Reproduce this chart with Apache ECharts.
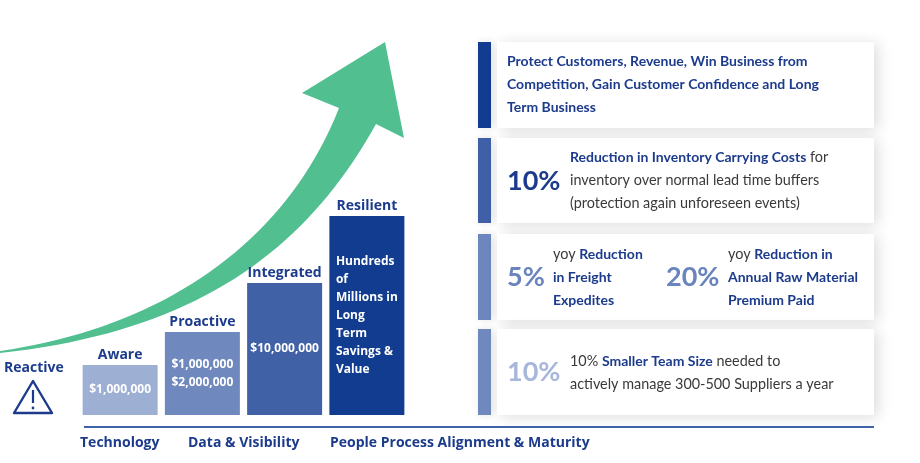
<!DOCTYPE html>
<html>
<head>
<meta charset="utf-8">
<script src="https://cdn.jsdelivr.net/npm/echarts@6/dist/echarts.min.js"></script>
<style>
  html, body { margin: 0; padding: 0; background: #fff; }
  #chart { width: 920px; height: 463px; }
</style>
</head>
<body>
<div id="chart"></div>
<script>
// maturity stages (bar height in px-ish units)
var stages = ['Aware', 'Proactive', 'Integrated', 'Resilient'];
var levels = [50, 83, 132, 199];
var stageValues = [
  '$1,000,000',
  '$1,000,000\n$2,000,000',
  '$10,000,000',
  'Hundreds\nof\nMillions in\nLong\nTerm\nSavings &\nValue'
];
var pillars = ['Technology', 'Data & Visibility', 'People Process Alignment & Maturity'];

// right hand benefit cards
var benefitHeadline = ['Protect Customers, Revenue, Win Business from', 'Competition, Gain Customer Confidence and Long', 'Term Business'];
var benefitPct = ['10%', '5%', '20%', '10%'];

var barColors = ['#9dafd3', '#6f89be', '#4061a6', '#123c8f'];
var navy = '#1c3b8c';
var leftFont = '"Open Sans", sans-serif';
var rightFont = 'Lato, sans-serif';

var chart = echarts.init(document.getElementById('chart'));

function card(y, h, accent) {
  return [{
    type: 'rect', shape: { x: 478, y: y, width: 13, height: h },
    style: { fill: accent, shadowBlur: 8, shadowColor: 'rgba(0,0,0,0.12)', shadowOffsetX: 2 }
  }, {
    type: 'rect', shape: { x: 497, y: y, width: 377, height: h },
    style: { fill: '#fff', shadowBlur: 14, shadowColor: 'rgba(0,0,0,0.14)', shadowOffsetX: 4, shadowOffsetY: 2 }
  }];
}

var rich = {
  b: { fontFamily: rightFont, fontWeight: 'bold', fontSize: 14, fill: navy, lineHeight: 23 },
  r: { fontFamily: rightFont, fontWeight: 'normal', fontSize: 14.4, fill: '#3a3a3a', lineHeight: 23 }
};

function para(x, y, text) {
  return {
    type: 'text', x: x, y: y,
    style: { text: text, rich: rich, verticalAlign: 'middle', align: 'left' }
  };
}

function pct(x, y, text, color) {
  return {
    type: 'text', x: x, y: y,
    style: { text: text, fontFamily: rightFont, fontWeight: 'bold', fontSize: 27, fill: color, verticalAlign: 'middle' }
  };
}

// sample a cubic curve into polygon points (decoration only)
function cubic(p0, p1, p2, p3, n) {
  var pts = [];
  for (var k = 0; k <= n; k++) {
    var t = k / n, u = 1 - t;
    pts.push([
      u * u * u * p0[0] + 3 * u * u * t * p1[0] + 3 * u * t * t * p2[0] + t * t * t * p3[0],
      u * u * u * p0[1] + 3 * u * u * t * p1[1] + 3 * u * t * t * p2[1] + t * t * t * p3[1]
    ]);
  }
  return pts;
}

var graphics = [];
graphics = graphics.concat(card(42, 86, '#123c8f'), card(138, 85, '#3f5fa6'), card(234, 86, '#6c87be'), card(329, 86, '#6f89bf'));

graphics.push(para(507, 84, '{b|' + benefitHeadline.join('}\n{b|') + '}'));
graphics.push(pct(507, 181, benefitPct[0], navy));
graphics.push(para(570, 180, '{b|Reduction in Inventory Carrying Costs}{r| for}\n{r|inventory over normal lead time buffers}\n{r|(protection again unforeseen events)}'));
graphics.push(pct(507, 277, benefitPct[1], '#6a84bd'));
graphics.push(para(553, 277, '{r|yoy }{b|Reduction}\n{b|in Freight}\n{b|Expedites}'));
graphics.push(pct(666, 277, benefitPct[2], '#6a84bd'));
graphics.push(para(728, 277, '{r|yoy }{b|Reduction in}\n{b|Annual Raw Material}\n{b|Premium Paid}'));
graphics.push(pct(507, 372, benefitPct[3], '#a7b7db'));
graphics.push(para(570, 373, '{r|10% }{b|Smaller Team Size}{r| needed to}\n{r|actively manage 300-500 Suppliers a year}'));

// growth arrow
var arrowPts = cubic([0, 351], [160, 328], [285, 245], [339, 108], 40)
  .concat([[302, 93], [385, 42], [404, 138]])
  .concat(cubic([376, 124], [305, 252], [195, 332], [0, 353], 40));
graphics.push({
  type: 'polygon', z: 1,
  shape: { points: arrowPts },
  style: { fill: '#52bf91' }
});

// baseline under the stages
graphics.push({
  type: 'line', shape: { x1: 84, y1: 427, x2: 874, y2: 427 },
  style: { stroke: '#3f62a8', lineWidth: 2 }
});

var pillarX = [80, 188, 330];
pillars.forEach(function (p, i) {
  graphics.push({
    type: 'text', x: pillarX[i], y: 443,
    style: { text: p, fontFamily: leftFont, fontWeight: 'bold', fontSize: 14, fill: navy, verticalAlign: 'middle' }
  });
});

// reactive + warning icon
graphics.push({
  type: 'text', x: 4, y: 368,
  style: { text: 'Reactive', fontFamily: leftFont, fontWeight: 'bold', fontSize: 14, fill: navy, verticalAlign: 'middle' }
});
graphics.push({
  type: 'polygon',
  shape: { points: [[33, 381], [14, 413], [52, 413]] },
  style: { fill: 'none', stroke: navy, lineWidth: 2.4, lineJoin: 'round' }
});
graphics.push({
  type: 'line', shape: { x1: 33, y1: 390, x2: 33, y2: 403 },
  style: { stroke: navy, lineWidth: 2.2 }
});
graphics.push({
  type: 'circle', shape: { cx: 33, cy: 408, r: 1.4 },
  style: { fill: navy }
});

var option = {
  animation: false,
  grid: { left: 79, right: 512, top: 215, bottom: 48 },
  xAxis: { type: 'category', data: stages, show: false },
  yAxis: { type: 'value', min: 0, max: 200, show: false },
  series: [{
    type: 'bar',
    barWidth: 75,
    z: 2,
    data: levels.map(function (v, i) {
      return { value: v, itemStyle: { color: barColors[i] } };
    }),
    label: {
      show: true, position: 'top', distance: 3,
      formatter: '{b}', fontFamily: leftFont, fontWeight: 'bold', fontSize: 14, lineHeight: 14, color: navy
    }
  }, {
    type: 'bar',
    barWidth: 75,
    barGap: '-100%',
    z: 3,
    silent: true,
    itemStyle: { color: 'rgba(0,0,0,0)' },
    data: levels.map(function (v, i) {
      var d = { value: v };
      if (i === 3) d.label = { align: 'left', offset: [-31, 0], lineHeight: 18 };
      return d;
    }),
    label: {
      show: true, position: 'inside',
      formatter: function (p) { return stageValues[p.dataIndex]; },
      fontFamily: leftFont, fontWeight: 'bold', fontSize: 12, lineHeight: 18, color: '#fff'
    }
  }],
  graphic: graphics
};
chart.setOption(option);
</script>
</body>
</html>
